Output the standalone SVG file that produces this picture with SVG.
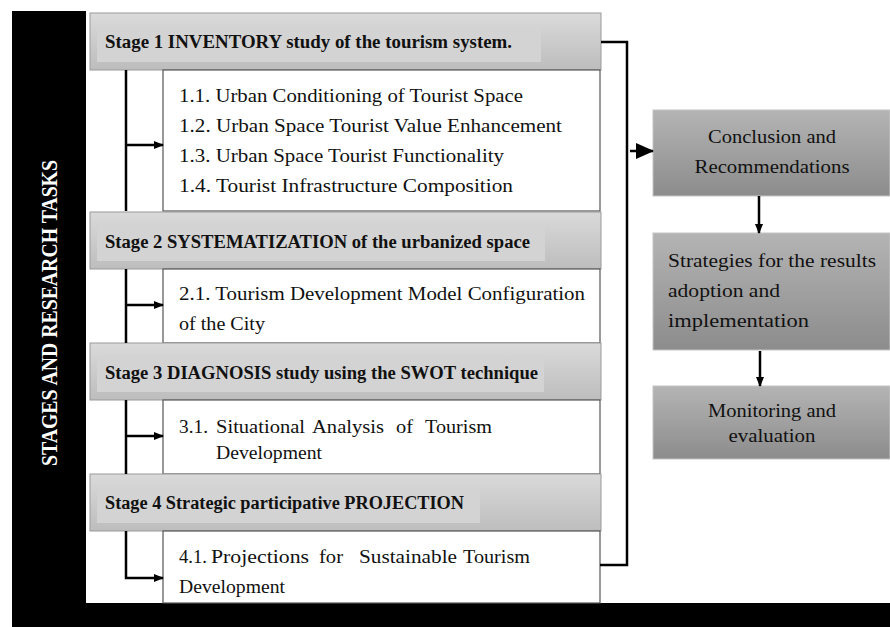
<svg xmlns="http://www.w3.org/2000/svg" width="890" height="627" viewBox="0 0 890 627">
<defs>
<linearGradient id="hdr" x1="0" y1="0" x2="0" y2="1">
<stop offset="0" stop-color="#dadada"/><stop offset="1" stop-color="#bdbdbd"/>
</linearGradient>
<linearGradient id="rbox" x1="0" y1="0" x2="0" y2="1">
<stop offset="0" stop-color="#b4b4b4"/><stop offset="1" stop-color="#8c8c8c"/>
</linearGradient>
<marker id="ah" markerWidth="10" markerHeight="10" refX="9" refY="5" orient="auto" markerUnits="userSpaceOnUse">
<path d="M0,1 L10,5 L0,9 Z" fill="#000"/>
</marker>
<marker id="ahB" markerWidth="18" markerHeight="18" refX="17" refY="9" orient="auto" markerUnits="userSpaceOnUse">
<path d="M0,1 L18,9 L0,17 Z" fill="#000"/>
</marker>
</defs>
<style>
.hdr{fill:url(#hdr);stroke:#9a9a9a;stroke-width:1}
.hin{fill:#d3d3d3}
.sub{fill:#fff;stroke:#555;stroke-width:1.2}
.rb{fill:url(#rbox);stroke:#c4c4c4;stroke-width:1}
.ht{font-family:"Liberation Serif",serif;font-weight:bold;font-size:18px;fill:#111}
.st{font-family:"Liberation Serif",serif;font-size:18px;fill:#111}
.ln{fill:none;stroke:#000;stroke-width:2.5}
</style>
<rect x="0" y="0" width="890" height="627" fill="#fff"/>
<g id="frame">
<rect x="12" y="11" width="74" height="616" fill="#000"/>
<rect x="12" y="603" width="878" height="24" fill="#000"/>
<text x="57" y="313" transform="rotate(-90 57 313)" text-anchor="middle" font-family="'Liberation Serif',serif" font-weight="bold" font-size="24" fill="#fff" textLength="306" lengthAdjust="spacingAndGlyphs">STAGES AND RESEARCH TASKS</text>
</g>
<g id="stage1">
<rect class="hdr" x="90" y="13" width="511" height="57"/>
<rect class="hin" x="97" y="27" width="444" height="35"/>
<text class="ht" x="105" y="48" textLength="407" lengthAdjust="spacingAndGlyphs">Stage 1 INVENTORY study of the tourism system.</text>
</g>
<g id="task1">
<rect class="sub" x="163" y="70" width="437" height="141"/>
<text class="st" x="179" y="102" textLength="344" lengthAdjust="spacingAndGlyphs">1.1. Urban Conditioning of Tourist Space</text>
<text class="st" x="179" y="132" textLength="383" lengthAdjust="spacingAndGlyphs">1.2. Urban Space Tourist Value Enhancement</text>
<text class="st" x="179" y="162" textLength="325" lengthAdjust="spacingAndGlyphs">1.3. Urban Space Tourist Functionality</text>
<text class="st" x="179" y="192" textLength="334" lengthAdjust="spacingAndGlyphs">1.4. Tourist Infrastructure Composition</text>
</g>
<g id="stage2">
<rect class="hdr" x="90" y="212" width="511" height="57"/>
<rect class="hin" x="97" y="226" width="448" height="35"/>
<text class="ht" x="105" y="248" textLength="425" lengthAdjust="spacingAndGlyphs">Stage 2 SYSTEMATIZATION of the urbanized space</text>
</g>
<g id="task2">
<rect class="sub" x="163" y="269" width="437" height="74"/>
<text class="st" x="179" y="300" textLength="406" lengthAdjust="spacingAndGlyphs">2.1. Tourism Development Model Configuration</text>
<text class="st" x="179" y="330" textLength="86" lengthAdjust="spacingAndGlyphs">of the City</text>
</g>
<g id="stage3">
<rect class="hdr" x="90" y="343" width="511" height="57"/>
<rect class="hin" x="97" y="357" width="447" height="35"/>
<text class="ht" x="105" y="379" textLength="433" lengthAdjust="spacingAndGlyphs">Stage 3 DIAGNOSIS study using the SWOT technique</text>
</g>
<g id="task3">
<rect class="sub" x="163" y="400" width="437" height="74"/>
<text class="st" y="433"><tspan x="179" textLength="29" lengthAdjust="spacingAndGlyphs">3.1.</tspan><tspan x="216" textLength="89" lengthAdjust="spacingAndGlyphs">Situational</tspan><tspan x="312" textLength="72" lengthAdjust="spacingAndGlyphs">Analysis</tspan><tspan x="396" textLength="17" lengthAdjust="spacingAndGlyphs">of</tspan><tspan x="425" textLength="67" lengthAdjust="spacingAndGlyphs">Tourism</tspan></text>
<text class="st" x="216" y="459" textLength="106" lengthAdjust="spacingAndGlyphs">Development</text>
</g>
<g id="stage4">
<rect class="hdr" x="90" y="474" width="511" height="57"/>
<rect class="hin" x="97" y="488" width="383" height="35"/>
<text class="ht" x="105" y="509" textLength="359" lengthAdjust="spacingAndGlyphs">Stage 4 Strategic participative PROJECTION</text>
</g>
<g id="task4">
<rect class="sub" x="163" y="531" width="437" height="72"/>
<text class="st" y="563"><tspan x="179" textLength="28" lengthAdjust="spacingAndGlyphs">4.1.</tspan><tspan x="211" textLength="98" lengthAdjust="spacingAndGlyphs">Projections</tspan><tspan x="319" textLength="24" lengthAdjust="spacingAndGlyphs">for</tspan><tspan x="359" textLength="98" lengthAdjust="spacingAndGlyphs">Sustainable</tspan><tspan x="463" textLength="67" lengthAdjust="spacingAndGlyphs">Tourism</tspan></text>
<text class="st" x="179" y="593" textLength="106" lengthAdjust="spacingAndGlyphs">Development</text>
</g>
<g id="conclusion">
<rect class="rb" x="653" y="110" width="237" height="86"/>
<text class="st" x="772" y="143" text-anchor="middle" textLength="128" lengthAdjust="spacingAndGlyphs">Conclusion and</text>
<text class="st" x="772" y="173" text-anchor="middle" textLength="155" lengthAdjust="spacingAndGlyphs">Recommendations</text>
</g>
<g id="strategies">
<rect class="rb" x="653" y="233" width="237" height="117"/>
<text class="st" x="668" y="267" textLength="208" lengthAdjust="spacingAndGlyphs">Strategies for the results</text>
<text class="st" x="668" y="297" textLength="112" lengthAdjust="spacingAndGlyphs">adoption and</text>
<text class="st" x="668" y="327" textLength="141" lengthAdjust="spacingAndGlyphs">implementation</text>
</g>
<g id="monitoring">
<rect class="rb" x="653" y="386" width="237" height="73"/>
<text class="st" x="772" y="417" text-anchor="middle" textLength="128" lengthAdjust="spacingAndGlyphs">Monitoring and</text>
<text class="st" x="772" y="442" text-anchor="middle" textLength="87" lengthAdjust="spacingAndGlyphs">evaluation</text>
</g>
<g id="connectors">
<path class="ln" d="M126,70 V211"/>
<path class="ln" d="M126,145 H163" marker-end="url(#ah)"/>
<path class="ln" d="M126,269 V343"/>
<path class="ln" d="M126,305 H163" marker-end="url(#ah)"/>
<path class="ln" d="M126,400 V474"/>
<path class="ln" d="M126,436 H163" marker-end="url(#ah)"/>
<path class="ln" d="M126,531 V578 H163" marker-end="url(#ah)"/>
<path class="ln" d="M601,42 H627 V565 H600"/>
<path class="ln" d="M630,151 H653" marker-end="url(#ahB)"/>
<path class="ln" d="M759,196 V233" marker-end="url(#ah)"/>
<path class="ln" d="M760,351 V386" marker-end="url(#ah)"/>
</g>
</svg>
